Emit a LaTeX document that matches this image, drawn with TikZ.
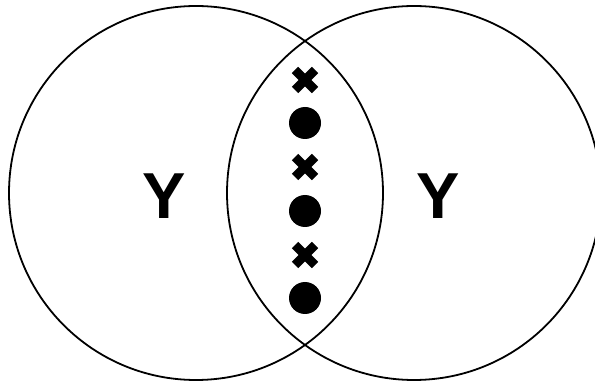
\documentclass[tikz,border=0pt]{standalone}
\usepackage{fontspec}
\setmainfont{Liberation Sans}
\usepackage{tikz}
\tikzset{
  setring/.style={draw=black,line width=1.8pt},
  setlabel/.style={font=\fontsize{65}{65}\selectfont\bfseries,inner sep=0pt},
  dotmark/.style={circle,fill=black,minimum size=32pt,inner sep=0pt},
  crossmark/.style={line width=9pt}
}
\begin{document}
\begin{tikzpicture}[x=1pt,y=-1pt]
  \useasboundingbox (0,0) rectangle (595,382);
  \clip (0,0) rectangle (595,382);
  % The two sets
  \draw[setring] (196,193) circle[radius=187pt];
  \draw[setring] (414,193) circle[radius=187pt];
  % Labels
  \node[setlabel] (yleft) at (164,196) {Y};
  \node[setlabel] (yright) at (438,196) {Y};
  % Marks in the overlap
  \foreach \row/\yy in {1/80,2/167,3/255}{
    \coordinate (cross\row) at (305,\yy);
    \draw[crossmark] ([shift={(-10,-10)}]cross\row) -- ([shift={(10,10)}]cross\row);
    \draw[crossmark] ([shift={(-10,10)}]cross\row) -- ([shift={(10,-10)}]cross\row);
  }
  \foreach \row/\yy in {1/123,2/211,3/298}{
    \node[dotmark] (dot\row) at (305,\yy) {};
  }
\end{tikzpicture}
\end{document}
